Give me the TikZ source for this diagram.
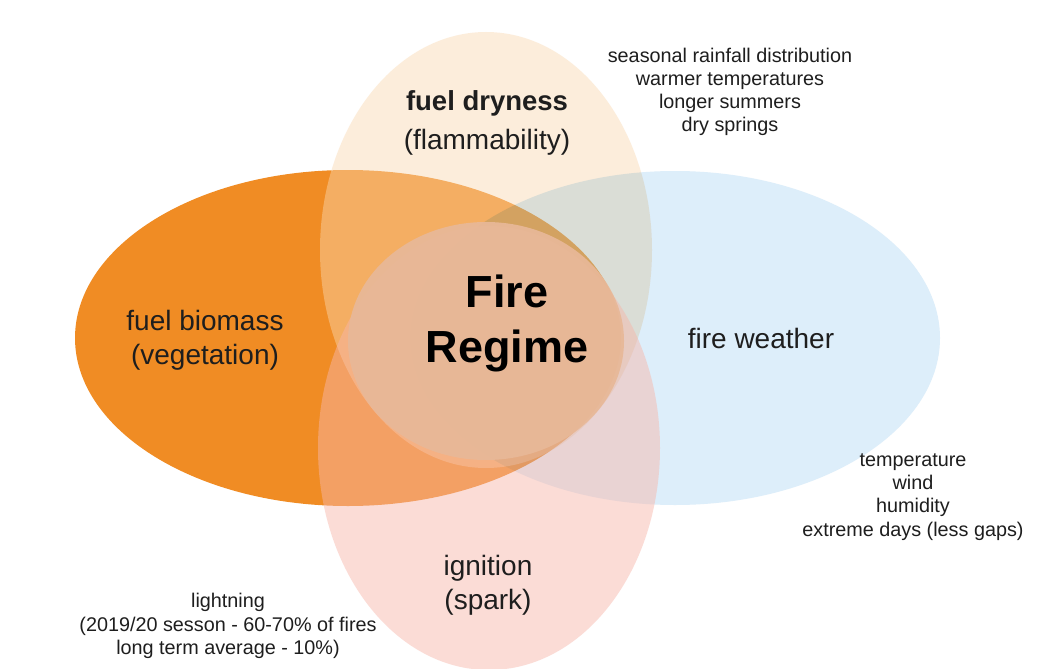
\documentclass[tikz,border=0pt]{standalone}
\usepackage{fontspec}
\setmainfont{Liberation Sans}
\definecolor{orangeC}{HTML}{F08C24}
\definecolor{yellowC}{HTML}{FAD9B1}
\definecolor{blueC}{HTML}{DDEEFA}
\definecolor{pinkC}{HTML}{F7B6AA}
\definecolor{centerC}{HTML}{E8B898}
\definecolor{txt}{HTML}{1E1E1E}
\begin{document}
\begin{tikzpicture}[x=1pt,y=-1pt,
  biglbl/.style={font=\fontsize{28}{34}\selectfont, align=center, text=txt, inner sep=0pt},
  boldlbl/.style={font=\bfseries\fontsize{27.5}{34}\selectfont, align=center, text=txt, inner sep=0pt},
  titlelbl/.style={font=\bfseries\fontsize{45}{55}\selectfont, align=center, text=black, inner sep=0pt},
  smalllbl/.style={font=\fontsize{19.8}{23.2}\selectfont, align=center, text=txt, inner sep=0pt}]
\useasboundingbox (0,0) rectangle (1060,669);
\fill[white] (0,0) rectangle (1060,669);
% shapes
\fill[orangeC] (348,338) ellipse [x radius=273, y radius=168];
\fill[yellowC, opacity=0.45] (486,250) ellipse [x radius=166, y radius=218];
\begin{scope}[blend mode=multiply]
\fill[blueC] (675,338) ellipse [x radius=265, y radius=167];
\end{scope}
\fill[pinkC, opacity=0.48] (489,448) ellipse [x radius=171, y radius=222];
\fill[centerC, opacity=0.93] (486,341) ellipse [x radius=138, y radius=119];
% labels
\node[boldlbl] (dry) at (487,103) {fuel dryness};
\node[biglbl] (flam) at (487,142) {(flammability)};
\node[biglbl] (bio) at (205,340) {fuel biomass\\(vegetation)};
\node[titlelbl] (fire) at (507,323) {Fire\\Regime};
\node[biglbl] (weather) at (761,338) {fire weather};
\node[biglbl] (ign) at (488,585) {ignition\\(spark)};
\node[smalllbl] (drynotes) at (730,92) {seasonal rainfall distribution\\warmer temperatures\\longer summers\\dry springs};
\node[smalllbl] (weathernotes) at (913,497) {temperature\\wind\\humidity\\extreme days (less gaps)};
\node[smalllbl] (ignnotes) at (228,626) {lightning\\(2019/20 sesson - 60-70\% of fires\\long term average - 10\%)};
\end{tikzpicture}
\end{document}
